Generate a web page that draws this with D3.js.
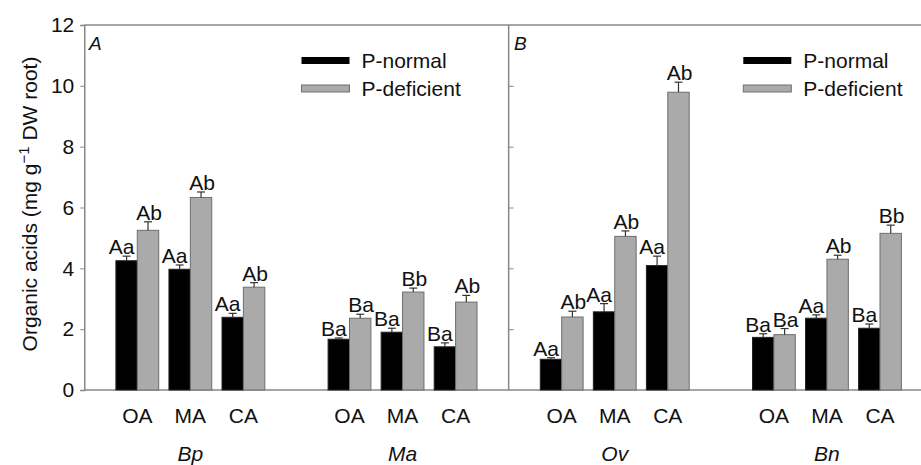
<!DOCTYPE html>
<html>
<head>
<meta charset="utf-8">
<script src="https://cdn.jsdelivr.net/npm/d3@7"></script>
<style>
  body { margin: 0; background: #fff; }
  text { font-family: "Liberation Sans", Arial, sans-serif; }
</style>
</head>
<body>
<div id="chart"></div>
<script>
// data
var species = ["Bp", "Ma", "Ov", "Bn"];
var acids = ["OA", "MA", "CA"];
var normalVals = [4.25, 3.97, 2.39, 1.67, 1.90, 1.42, 1.01, 2.57, 4.09, 1.73, 2.36, 2.03];
var normalErr = [0.15, 0.14, 0.13, 0.04, 0.13, 0.13, 0.05, 0.27, 0.31, 0.12, 0.11, 0.14];
var normalLbl = ["Aa", "Aa", "Aa", "Ba", "Ba", "Ba", "Aa", "Aa", "Aa", "Ba", "Aa", "Ba"];
var deficientVals = [5.25, 6.33, 3.38, 2.36, 3.22, 2.89, 2.40, 5.05, 9.79, 1.82, 4.30, 5.15];
var deficientErr = [0.28, 0.18, 0.15, 0.13, 0.13, 0.22, 0.19, 0.18, 0.33, 0.20, 0.13, 0.27];
var deficientLbl = ["Ab", "Ab", "Ab", "Ba", "Bb", "Ab", "Ab", "Ab", "Ab", "Ba", "Ab", "Bb"];
var yTicks = [0, 2, 4, 6, 8, 10, 12];
var legendNames = ["P-normal", "P-deficient"];

var w = 921, h = 465;
var FONT = 21;

var svg = d3.select("#chart").append("svg")
    .attr("width", w)
    .attr("height", h);

// slot positions: 3 acids per species, one empty slot between species
var slots = [];
species.forEach(function (s, i) {
    acids.forEach(function (a, j) {
        slots.push({ sp: s, acid: a, slot: i * 4 + j });
    });
});

var x = d3.scaleLinear().domain([0, 14]).range([137.3, 880]);
var y = d3.scaleLinear().domain([0, 12]).range([390, 25]);
var barW = 21.4;
var axisCol = "#888";

// frame lines
svg.append("line").attr("x1", x(-1)).attr("x2", w).attr("y1", y(12)).attr("y2", y(12))
    .attr("stroke", axisCol).attr("stroke-width", 1.5);
svg.append("line").attr("x1", x(-1)).attr("x2", w).attr("y1", y(0)).attr("y2", y(0))
    .attr("stroke", axisCol).attr("stroke-width", 1.5);
svg.append("line").attr("x1", x(7)).attr("x2", x(7)).attr("y1", y(12)).attr("y2", y(0))
    .attr("stroke", axisCol).attr("stroke-width", 1.5);

// left y axis
var yAxis = svg.append("g")
    .attr("transform", "translate(" + x(-1) + ",0)")
    .call(d3.axisLeft(y).tickValues(yTicks).tickSize(4).tickPadding(6));
yAxis.select(".domain").attr("stroke", axisCol).attr("stroke-width", 1.5);
yAxis.selectAll(".tick line").attr("stroke", axisCol);
yAxis.selectAll(".tick text")
    .attr("font-size", FONT)
    .attr("font-family", "Liberation Sans, Arial, sans-serif")
    .attr("fill", "#111");

// inner ticks of panel B
var yAxisB = svg.append("g")
    .attr("transform", "translate(" + x(7) + ",0)")
    .call(d3.axisRight(y).tickValues(yTicks.slice(1, 6)).tickSize(5).tickFormat(""));
yAxisB.select(".domain").remove();
yAxisB.selectAll(".tick line").attr("stroke", axisCol);

// bars, error bars and significance letters
function drawSeries(vals, errs, lbls, offset, fill, stroke, lblShift) {
    var g = svg.append("g");
    g.selectAll("rect").data(slots).enter().append("rect")
        .attr("x", function (d) { return x(d.slot) + offset; })
        .attr("y", function (d, i) { return y(vals[i]); })
        .attr("width", barW)
        .attr("height", function (d, i) { return y(0) - y(vals[i]); })
        .attr("fill", fill)
        .attr("stroke", stroke)
        .attr("stroke-width", 1);
    var cx = function (d) { return x(d.slot) + offset + barW / 2; };
    g.selectAll("line.err").data(slots).enter().append("line")
        .attr("class", "err")
        .attr("x1", cx).attr("x2", cx)
        .attr("y1", function (d, i) { return y(vals[i]); })
        .attr("y2", function (d, i) { return y(vals[i] + errs[i]); })
        .attr("stroke", "#333").attr("stroke-width", 1.2);
    g.selectAll("line.cap").data(slots).enter().append("line")
        .attr("class", "cap")
        .attr("x1", function (d) { return cx(d) - 4; })
        .attr("x2", function (d) { return cx(d) + 4; })
        .attr("y1", function (d, i) { return y(vals[i] + errs[i]); })
        .attr("y2", function (d, i) { return y(vals[i] + errs[i]); })
        .attr("stroke", "#333").attr("stroke-width", 1.2);
    g.selectAll("text").data(slots).enter().append("text")
        .attr("x", function (d) { return cx(d) + lblShift; })
        .attr("y", function (d, i) { return y(vals[i] + errs[i]) - 2; })
        .attr("text-anchor", "middle")
        .attr("font-size", FONT)
        .attr("fill", "#111")
        .text(function (d, i) { return lbls[i]; });
}

drawSeries(normalVals, normalErr, normalLbl, -barW, "#000", "#222", -5);
drawSeries(deficientVals, deficientErr, deficientLbl, 0, "#aaa", "#6e6e6e", 1);

// category labels
svg.append("g").selectAll("text").data(slots).enter().append("text")
    .attr("x", function (d) { return x(d.slot); })
    .attr("y", 423)
    .attr("text-anchor", "middle")
    .attr("font-size", FONT)
    .attr("fill", "#111")
    .text(function (d) { return d.acid; });

// species labels
svg.append("g").selectAll("text").data(species).enter().append("text")
    .attr("x", function (d, i) { return x(i * 4 + 1); })
    .attr("y", 461)
    .attr("text-anchor", "middle")
    .attr("font-size", FONT)
    .attr("font-style", "italic")
    .attr("fill", "#111")
    .text(function (d) { return d; });

// panel letters
svg.append("text").attr("x", 89).attr("y", 50).attr("font-size", 19)
    .attr("font-style", "italic").attr("fill", "#111").text("A");
svg.append("text").attr("x", 514).attr("y", 50).attr("font-size", 19)
    .attr("font-style", "italic").attr("fill", "#111").text("B");

// legends
[301.5, 743.3].forEach(function (lx) {
    var lg = svg.append("g").attr("transform", "translate(" + lx + ",0)");
    lg.append("rect").attr("x", 0).attr("y", 57).attr("width", 48).attr("height", 7)
        .attr("fill", "#000");
    lg.append("rect").attr("x", 0).attr("y", 85).attr("width", 48).attr("height", 7)
        .attr("fill", "#aaa").attr("stroke", "#6e6e6e").attr("stroke-width", 1);
    lg.append("text").attr("x", 60).attr("y", 68).attr("font-size", FONT)
        .attr("fill", "#111").text(legendNames[0]);
    lg.append("text").attr("x", 60).attr("y", 96).attr("font-size", FONT)
        .attr("fill", "#111").text(legendNames[1]);
});

// y axis title
var yt = svg.append("text")
    .attr("transform", "translate(37,204) rotate(-90)")
    .attr("text-anchor", "middle")
    .attr("font-size", FONT)
    .attr("fill", "#111");
yt.append("tspan").text("Organic acids (mg g");
yt.append("tspan").attr("dy", -8).attr("font-size", 15).text("\u22121");
yt.append("tspan").attr("dy", 8).text(" DW root)");
</script>
</body>
</html>
